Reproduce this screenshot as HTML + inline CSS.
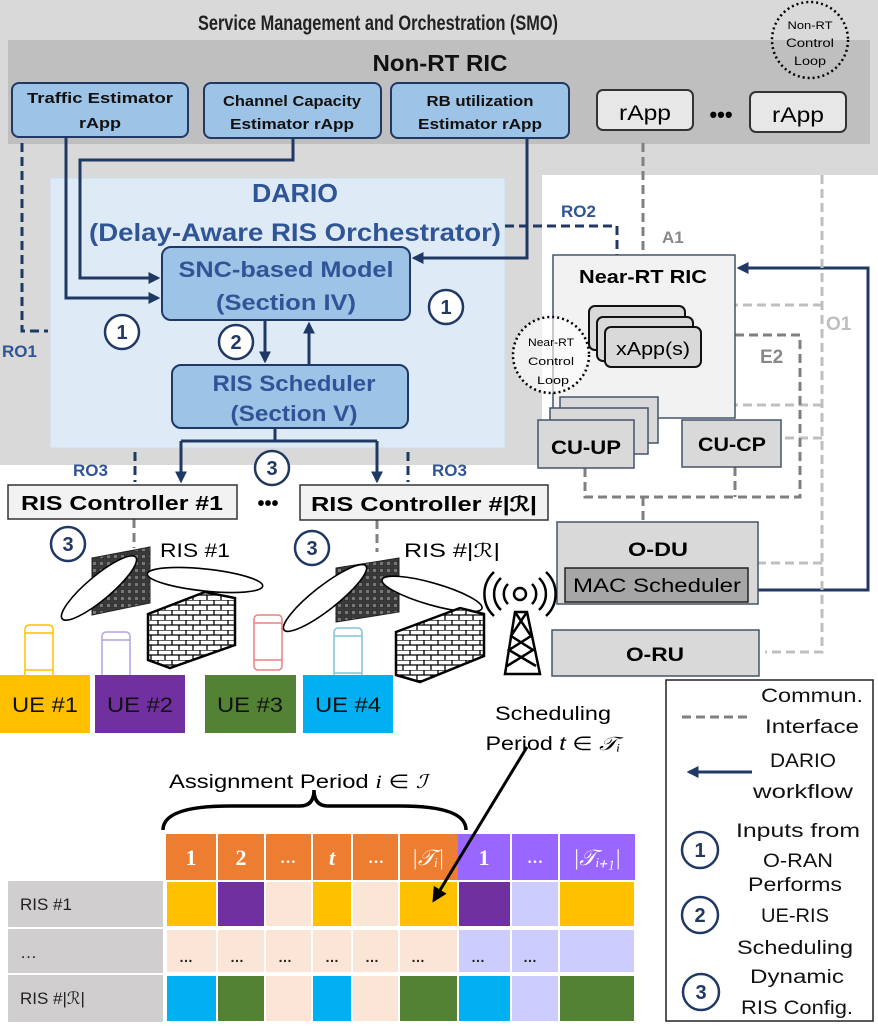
<!DOCTYPE html>
<html><head><meta charset="utf-8"><style>
html,body{margin:0;padding:0;background:#fff}
svg{display:block;font-family:"Liberation Sans",sans-serif}
</style></head><body>
<svg width="878" height="1026" viewBox="0 0 878 1026" xmlns="http://www.w3.org/2000/svg">
<defs>
<marker id="ah" viewBox="0 0 10 10" refX="8" refY="5" markerWidth="4" markerHeight="4" orient="auto"><path d="M0,0 L10,5 L0,10 z" fill="#203864"/></marker>
<marker id="ak" viewBox="0 0 10 10" refX="8" refY="5" markerWidth="5" markerHeight="5" orient="auto"><path d="M0,0 L10,5 L0,10 z" fill="#000"/></marker>
<pattern id="grid" width="7" height="7" patternUnits="userSpaceOnUse"><rect width="7" height="7" fill="#3a3a3a"/><rect x="1.5" y="1.5" width="4" height="4" fill="#777" stroke="#222" stroke-width="0.6"/></pattern>
<pattern id="brick" width="14" height="10" patternUnits="userSpaceOnUse"><rect width="14" height="10" fill="#fff"/><path d="M0,0H14M0,5H14M4,0V5M11,5V10" stroke="#000" stroke-width="1.3"/></pattern>
</defs>
<!-- SMO backgrounds -->
<rect x="0" y="0" width="878" height="175" fill="#d9d9d9"/>
<rect x="0" y="175" width="542" height="290" fill="#d9d9d9"/>
<rect x="8" y="40" width="862" height="104" fill="#bfbfbf"/>
<text x="378" y="30" font-size="21" font-weight="bold" text-anchor="middle" textLength="360" lengthAdjust="spacingAndGlyphs" fill="#222">Service Management and Orchestration (SMO)</text>
<text x="440" y="71" font-size="23" font-weight="bold" text-anchor="middle" textLength="135" lengthAdjust="spacingAndGlyphs" fill="#111">Non-RT RIC</text>
<circle cx="810" cy="40" r="38" fill="none" stroke="#000" stroke-width="2.5" stroke-dasharray="2 3"/>
<text x="810" y="29" font-size="11" text-anchor="middle" textLength="45" lengthAdjust="spacingAndGlyphs">Non-RT</text>
<text x="810" y="47" font-size="12" text-anchor="middle" textLength="48" lengthAdjust="spacingAndGlyphs">Control</text>
<text x="810" y="65" font-size="12" text-anchor="middle" textLength="32" lengthAdjust="spacingAndGlyphs">Loop</text>
<!-- rApps -->
<g stroke="#203864" stroke-width="2" fill="#9dc3e6">
<rect x="12" y="83" width="176" height="54" rx="7"/>
<rect x="204" y="83" width="177" height="55" rx="7"/>
<rect x="391" y="83" width="178" height="55" rx="7"/>
</g>
<g font-size="15" font-weight="bold" text-anchor="middle" fill="#111">
<text x="100" y="103" textLength="146" lengthAdjust="spacingAndGlyphs">Traffic Estimator</text>
<text x="100" y="128" textLength="42" lengthAdjust="spacingAndGlyphs">rApp</text>
<text x="292" y="106" textLength="138" lengthAdjust="spacingAndGlyphs">Channel Capacity</text>
<text x="292" y="129" textLength="124" lengthAdjust="spacingAndGlyphs">Estimator  rApp</text>
<text x="480" y="106" textLength="107" lengthAdjust="spacingAndGlyphs">RB utilization</text>
<text x="480" y="129" textLength="124" lengthAdjust="spacingAndGlyphs">Estimator  rApp</text>
</g>
<g stroke="#333" stroke-width="2" fill="#e7e7e7">
<rect x="597" y="90" width="96" height="40" rx="6"/>
<rect x="750" y="92" width="96" height="40" rx="6"/>
</g>
<text x="645" y="120" font-size="21" text-anchor="middle" textLength="52" lengthAdjust="spacingAndGlyphs">rApp</text>
<text x="798" y="122" font-size="21" text-anchor="middle" textLength="52" lengthAdjust="spacingAndGlyphs">rApp</text>
<text x="721" y="122" font-size="22" font-weight="bold" text-anchor="middle">•••</text>
<!-- DARIO -->
<rect x="50" y="178" width="455" height="270" fill="#deebf7" stroke="#cfdbe8"/>
<text x="295" y="202" font-size="26" font-weight="bold" text-anchor="middle" fill="#2f5597" textLength="86" lengthAdjust="spacingAndGlyphs">DARIO</text>
<text x="295" y="241" font-size="25" font-weight="bold" text-anchor="middle" fill="#2f5597" textLength="412" lengthAdjust="spacingAndGlyphs">(Delay-Aware RIS Orchestrator)</text>
<rect x="162" y="247" width="248" height="73" rx="9" fill="#9dc3e6" stroke="#203864" stroke-width="2"/>
<text x="286" y="277" font-size="22" font-weight="bold" text-anchor="middle" fill="#2f5597" textLength="215" lengthAdjust="spacingAndGlyphs">SNC-based Model</text>
<text x="286" y="310" font-size="22" font-weight="bold" text-anchor="middle" fill="#2f5597" textLength="140" lengthAdjust="spacingAndGlyphs">(Section IV)</text>
<rect x="172" y="365" width="236" height="63" rx="9" fill="#9dc3e6" stroke="#203864" stroke-width="2"/>
<text x="294" y="391" font-size="22" font-weight="bold" text-anchor="middle" fill="#2f5597" textLength="163" lengthAdjust="spacingAndGlyphs">RIS Scheduler</text>
<text x="294" y="421" font-size="22" font-weight="bold" text-anchor="middle" fill="#2f5597" textLength="127" lengthAdjust="spacingAndGlyphs">(Section V)</text>
<!-- blue workflow arrows -->
<g fill="none" stroke="#203864" stroke-width="3">
<path d="M66,137 V298 H158" marker-end="url(#ah)"/>
<path d="M293,138 V160 H80 V278 H158" marker-end="url(#ah)"/>
<path d="M527,138 V258 H414" marker-end="url(#ah)"/>
<path d="M265,320 V361" marker-end="url(#ah)"/>
<path d="M309,365 V324" marker-end="url(#ah)"/>
<path d="M275,428 V441 M181,441 H377"/>
<path d="M181,441 V481" marker-end="url(#ah)"/>
<path d="M377,441 V481" marker-end="url(#ah)"/>
<path d="M758,590 H868 V268 H739" marker-end="url(#ah)"/>
</g>
<!-- RO dashed -->
<g fill="none" stroke="#203864" stroke-width="3" stroke-dasharray="9 5">
<path d="M22,143 V331 H48"/>
<path d="M505,226 H617 V255"/>
<path d="M135,452 V482"/>
<path d="M408,452 V482"/>
</g>
<g font-size="17" font-weight="bold" fill="#2f5597">
<text x="2" y="357">RO1</text>
<text x="561" y="217">RO2</text>
<text x="73" y="476">RO3</text>
<text x="432" y="476">RO3</text>
</g>
<!-- legend box (drawn before circles) -->
<rect x="666" y="680" width="207" height="341" fill="#fff" stroke="#222" stroke-width="1.5"/>
<!-- circled numbers -->
<g fill="#fff" stroke="#203864" stroke-width="2.5">
<circle cx="122" cy="332" r="17"/><circle cx="446" cy="307" r="17"/><circle cx="236" cy="342" r="17"/><circle cx="272" cy="468" r="17"/>
<circle cx="68" cy="544" r="17"/><circle cx="312" cy="548" r="17"/>
<circle cx="700" cy="850" r="18"/><circle cx="700" cy="915" r="18"/><circle cx="701" cy="992" r="18"/>
</g>
<g font-size="20" font-weight="bold" fill="#203864" text-anchor="middle">
<text x="122" y="339">1</text><text x="446" y="314">1</text><text x="236" y="349">2</text><text x="272" y="475">3</text>
<text x="68" y="551">3</text><text x="312" y="555">3</text>
<text x="700" y="857">1</text><text x="700" y="922">2</text><text x="701" y="999">3</text>
</g>
<!-- gray interfaces -->
<g fill="none" stroke-width="3" stroke-dasharray="9 5">
<path d="M643,143 V255" stroke="#808080"/>
<path d="M822,175 V652 H765 M822,305 H735 M822,405 H660 M822,438 H781 M822,563 H758" stroke="#bfbfbf"/>
<path d="M735,335 H800 V497 H585 V465 M735,467 V497 M643,497 V522" stroke="#7f7f7f"/>
<path d="M134,519 V548" stroke="#808080"/>
<path d="M377,520 V552" stroke="#808080"/>
</g>
<text x="662" y="243" font-size="17" font-weight="bold" fill="#888">A1</text>
<text x="826" y="330" font-size="19" font-weight="bold" fill="#bfbfbf">O1</text>
<text x="760" y="363" font-size="19" font-weight="bold" fill="#888">E2</text>
<!-- Near-RT RIC -->
<rect x="553" y="255" width="182" height="163" fill="#f2f2f2" stroke="#44546a" stroke-width="1.5"/>
<text x="643" y="283" font-size="18" font-weight="bold" text-anchor="middle" textLength="128" lengthAdjust="spacingAndGlyphs">Near-RT RIC</text>
<g stroke="#111" stroke-width="2" fill="#d9d9d9">
<rect x="589" y="306" width="96" height="44" rx="6"/>
<rect x="597" y="317" width="96" height="44" rx="6"/>
<rect x="605" y="327" width="96" height="40" rx="6"/>
</g>
<text x="653" y="355" font-size="18" text-anchor="middle" textLength="74" lengthAdjust="spacingAndGlyphs">xApp(s)</text>
<circle cx="551" cy="355" r="38" fill="#fff" fill-opacity="0.6" stroke="#000" stroke-width="2.5" stroke-dasharray="2 3"/>
<text x="551" y="346" font-size="11" text-anchor="middle" textLength="46" lengthAdjust="spacingAndGlyphs">Near-RT</text>
<text x="551" y="365" font-size="11" text-anchor="middle" textLength="46" lengthAdjust="spacingAndGlyphs">Control</text>
<text x="553" y="384" font-size="11" text-anchor="middle" textLength="32" lengthAdjust="spacingAndGlyphs">Loop</text>
<!-- CU -->
<g stroke="#44546a" stroke-width="1.5" fill="#d9d9d9">
<rect x="560" y="397" width="98" height="46"/>
<rect x="550" y="408" width="98" height="46"/>
<rect x="538" y="420" width="96" height="48"/>
<rect x="682" y="420" width="99" height="47"/>
</g>
<text x="586" y="454" font-size="19" font-weight="bold" text-anchor="middle" textLength="70" lengthAdjust="spacingAndGlyphs">CU-UP</text>
<text x="732" y="451" font-size="19" font-weight="bold" text-anchor="middle" textLength="68" lengthAdjust="spacingAndGlyphs">CU-CP</text>
<!-- O-DU, O-RU -->
<rect x="557" y="522" width="201" height="82" fill="#d9d9d9" stroke="#44546a" stroke-width="1.5"/>
<text x="658" y="556" font-size="19" font-weight="bold" text-anchor="middle" textLength="60" lengthAdjust="spacingAndGlyphs">O-DU</text>
<rect x="565" y="568" width="183" height="34" fill="#a6a6a6" stroke="#222" stroke-width="1.5"/>
<text x="657" y="592" font-size="19" text-anchor="middle" textLength="168" lengthAdjust="spacingAndGlyphs">MAC Scheduler</text>
<rect x="552" y="630" width="207" height="46" fill="#d9d9d9" stroke="#44546a" stroke-width="1.5"/>
<text x="655" y="661" font-size="19" font-weight="bold" text-anchor="middle" textLength="58" lengthAdjust="spacingAndGlyphs">O-RU</text>
<!-- RIS controllers -->
<rect x="8" y="485" width="229" height="34" fill="#f2f2f2" stroke="#333" stroke-width="1.5"/>
<text x="122" y="510" font-size="20" font-weight="bold" text-anchor="middle" textLength="202" lengthAdjust="spacingAndGlyphs">RIS Controller #1</text>
<rect x="300" y="485" width="248" height="35" fill="#f2f2f2" stroke="#333" stroke-width="1.5"/>
<text x="424" y="511" font-size="20" font-weight="bold" text-anchor="middle" textLength="226" lengthAdjust="spacingAndGlyphs">RIS Controller #|ℛ|</text>
<text x="268" y="510" font-size="20" font-weight="bold" text-anchor="middle">•••</text>
<!-- RIS boards & beams -->
<polygon points="92,558 150,547 150,603 92,615" fill="url(#grid)" stroke="#222"/>
<polygon points="336,568 399,558 399,612 336,622" fill="url(#grid)" stroke="#222"/>
<g fill="#fff" stroke="#000" stroke-width="1.6">
<ellipse cx="99" cy="588" rx="48" ry="12" transform="rotate(-40 99 588)"/>
<ellipse cx="205" cy="580" rx="58" ry="11" transform="rotate(6 205 580)"/>
<ellipse cx="325" cy="598" rx="52" ry="12" transform="rotate(-38 325 598)"/>
<ellipse cx="432" cy="594" rx="52" ry="11" transform="rotate(16 432 594)"/>
</g>
<text x="160" y="557" font-size="19" textLength="70" lengthAdjust="spacingAndGlyphs">RIS #1</text>
<text x="404" y="557" font-size="19" textLength="96" lengthAdjust="spacingAndGlyphs">RIS #|ℛ|</text>
<!-- walls -->
<polygon points="148,614 205,592 235,598 235,645 170,668 148,660" fill="url(#brick)" stroke="#000" stroke-width="2.5"/>
<polygon points="396,632 460,608 484,614 484,656 420,682 396,675" fill="url(#brick)" stroke="#000" stroke-width="2.5"/>
<!-- tower -->
<g fill="none" stroke="#000" stroke-width="2.5">
<circle cx="520" cy="594" r="6"/>
<path d="M508,584 a14,14 0 0 0 0,20 M532,584 a14,14 0 0 1 0,20 M501,578 a22,22 0 0 0 0,32 M539,578 a22,22 0 0 1 0,32 M494,572 a30,30 0 0 0 0,44 M546,572 a30,30 0 0 1 0,44"/>
<path d="M515,612 L505,674 H540 L527,612 Z M515,612 L531,636 L509,650 L536,666 M527,612 L511,636 L533,650 L507,666"/>
</g>
<!-- phones -->
<g fill="none" stroke-width="1.5">
<rect x="25" y="625" width="28" height="55" rx="4" stroke="#ffc000"/><path d="M25,633H53M25,670H53" stroke="#ffc000"/>
<rect x="102" y="632" width="28" height="55" rx="4" stroke="#b4a0e0"/><path d="M102,640H130M102,677H130" stroke="#b4a0e0"/>
<rect x="254" y="615" width="28" height="55" rx="4" stroke="#e88080"/><path d="M254,623H282M254,660H282" stroke="#e88080"/>
<rect x="334" y="628" width="28" height="55" rx="4" stroke="#7fc4d8"/><path d="M334,636H362M334,673H362" stroke="#7fc4d8"/>
</g>
<!-- UEs -->
<rect x="0" y="675" width="90" height="58" fill="#ffc000"/>
<rect x="95" y="675" width="90" height="58" fill="#7030a0"/>
<rect x="205" y="675" width="91" height="58" fill="#548235"/>
<rect x="303" y="675" width="90" height="58" fill="#00b0f0"/>
<g font-size="21" text-anchor="middle" fill="#111">
<text x="45" y="712" textLength="66" lengthAdjust="spacingAndGlyphs">UE #1</text>
<text x="140" y="712" textLength="66" lengthAdjust="spacingAndGlyphs">UE #2</text>
<text x="250" y="712" textLength="66" lengthAdjust="spacingAndGlyphs">UE #3</text>
<text x="348" y="712" textLength="66" lengthAdjust="spacingAndGlyphs">UE #4</text>
</g>
<!-- scheduling labels -->
<text x="553" y="720" font-size="19" text-anchor="middle" textLength="116" lengthAdjust="spacingAndGlyphs">Scheduling</text>
<text x="553" y="750" font-size="19" text-anchor="middle" textLength="135" lengthAdjust="spacingAndGlyphs">Period <tspan font-style="italic">t</tspan> ∈ <tspan font-style="italic" font-family="Liberation Serif">𝒯ᵢ</tspan></text>
<text x="298" y="788" font-size="19" text-anchor="middle" textLength="258" lengthAdjust="spacingAndGlyphs">Assignment Period <tspan font-style="italic" font-family="Liberation Serif">i</tspan>  ∈ <tspan font-style="italic" font-family="Liberation Serif">ℐ</tspan></text>
<path d="M163,830 Q163,806 230,806 L300,806 Q314,806 314,790 Q314,806 328,806 L400,806 Q466,806 466,830" fill="none" stroke="#000" stroke-width="3.5"/>
<!-- table -->
<g>
<rect x="166" y="834" width="292" height="46" fill="#ed7d31"/>
<rect x="458" y="834" width="177" height="46" fill="#9966ff"/>
<rect x="8" y="881" width="155" height="46" fill="#d0cece"/>
<rect x="8" y="929" width="155" height="44" fill="#d0cece"/>
<rect x="8" y="975" width="155" height="47" fill="#d0cece"/>
</g>
<g stroke="#fff" stroke-width="2">
<rect x="166" y="881" width="51" height="46" fill="#ffc000"/><rect x="217" y="881" width="48" height="46" fill="#7030a0"/><rect x="265" y="881" width="47" height="46" fill="#fbe5d6"/><rect x="312" y="881" width="40" height="46" fill="#ffc000"/><rect x="352" y="881" width="47" height="46" fill="#fbe5d6"/><rect x="399" y="881" width="59" height="46" fill="#ffc000"/><rect x="458" y="881" width="53" height="46" fill="#7030a0"/><rect x="511" y="881" width="48" height="46" fill="#ccccff"/><rect x="559" y="881" width="76" height="46" fill="#ffc000"/>
<rect x="166" y="929" width="51" height="44" fill="#fbe5d6"/><rect x="217" y="929" width="48" height="44" fill="#fbe5d6"/><rect x="265" y="929" width="47" height="44" fill="#fbe5d6"/><rect x="312" y="929" width="40" height="44" fill="#fbe5d6"/><rect x="352" y="929" width="47" height="44" fill="#fbe5d6"/><rect x="399" y="929" width="59" height="44" fill="#fbe5d6"/><rect x="458" y="929" width="53" height="44" fill="#ccccff"/><rect x="511" y="929" width="48" height="44" fill="#ccccff"/><rect x="559" y="929" width="76" height="44" fill="#ccccff"/>
<rect x="166" y="975" width="51" height="47" fill="#00b0f0"/><rect x="217" y="975" width="48" height="47" fill="#548235"/><rect x="265" y="975" width="47" height="47" fill="#fbe5d6"/><rect x="312" y="975" width="40" height="47" fill="#00b0f0"/><rect x="352" y="975" width="47" height="47" fill="#fbe5d6"/><rect x="399" y="975" width="59" height="47" fill="#548235"/><rect x="458" y="975" width="53" height="47" fill="#00b0f0"/><rect x="511" y="975" width="48" height="47" fill="#ccccff"/><rect x="559" y="975" width="76" height="47" fill="#548235"/>
<path d="M217,834V880M265,834V880M312,834V880M352,834V880M399,834V880M511,834V880M559,834V880" fill="none"/>
</g>
<g font-family="Liberation Serif" font-size="22" font-weight="bold" fill="#fff" text-anchor="middle">
<text x="191" y="865">1</text><text x="241" y="865">2</text><text x="288" y="863" font-size="16">…</text><text x="332" y="865" font-style="italic">t</text><text x="376" y="863" font-size="16">…</text><text x="428" y="865" font-weight="normal" font-style="italic">|𝒯ᵢ|</text><text x="484" y="865">1</text><text x="535" y="863" font-size="16">…</text><text x="597" y="865" font-weight="normal" font-style="italic">|𝒯ᵢ₊₁|</text>
</g>
<g font-size="17" fill="#222">
<text x="20" y="910">RIS #1</text><text x="20" y="958">…</text><text x="20" y="1004">RIS #|ℛ|</text>
</g>
<g font-size="14" font-weight="bold" fill="#222" text-anchor="middle">
<text x="186" y="962">…</text><text x="237" y="962">…</text><text x="285" y="962">…</text><text x="332" y="962">…</text><text x="372" y="962">…</text><text x="418" y="962">…</text><text x="478" y="962">…</text><text x="530" y="962">…</text>
</g>
<path d="M527,747 L434,900" stroke="#000" stroke-width="3" marker-end="url(#ak)"/>
<!-- legend content -->
<path d="M682,717 H748" stroke="#808080" stroke-width="3" stroke-dasharray="9 5"/>
<path d="M752,772 H689" stroke="#203864" stroke-width="3" marker-end="url(#ah)"/>
<g font-size="19" text-anchor="middle" fill="#111">
<text x="812" y="702" textLength="102" lengthAdjust="spacingAndGlyphs">Commun.</text>
<text x="812" y="733" textLength="94" lengthAdjust="spacingAndGlyphs">Interface</text>
<text x="803" y="767" textLength="66" lengthAdjust="spacingAndGlyphs">DARIO</text>
<text x="803" y="798" textLength="100" lengthAdjust="spacingAndGlyphs">workflow</text>
<text x="798" y="837" textLength="124" lengthAdjust="spacingAndGlyphs">Inputs from</text>
<text x="798" y="867" textLength="70" lengthAdjust="spacingAndGlyphs">O-RAN</text>
<text x="795" y="891" textLength="94" lengthAdjust="spacingAndGlyphs">Performs</text>
<text x="795" y="922" textLength="68" lengthAdjust="spacingAndGlyphs">UE-RIS</text>
<text x="795" y="954" textLength="116" lengthAdjust="spacingAndGlyphs">Scheduling</text>
<text x="797" y="983" textLength="94" lengthAdjust="spacingAndGlyphs">Dynamic</text>
<text x="797" y="1014" textLength="112" lengthAdjust="spacingAndGlyphs">RIS Config.</text>
</g>
</svg>
</body></html>
